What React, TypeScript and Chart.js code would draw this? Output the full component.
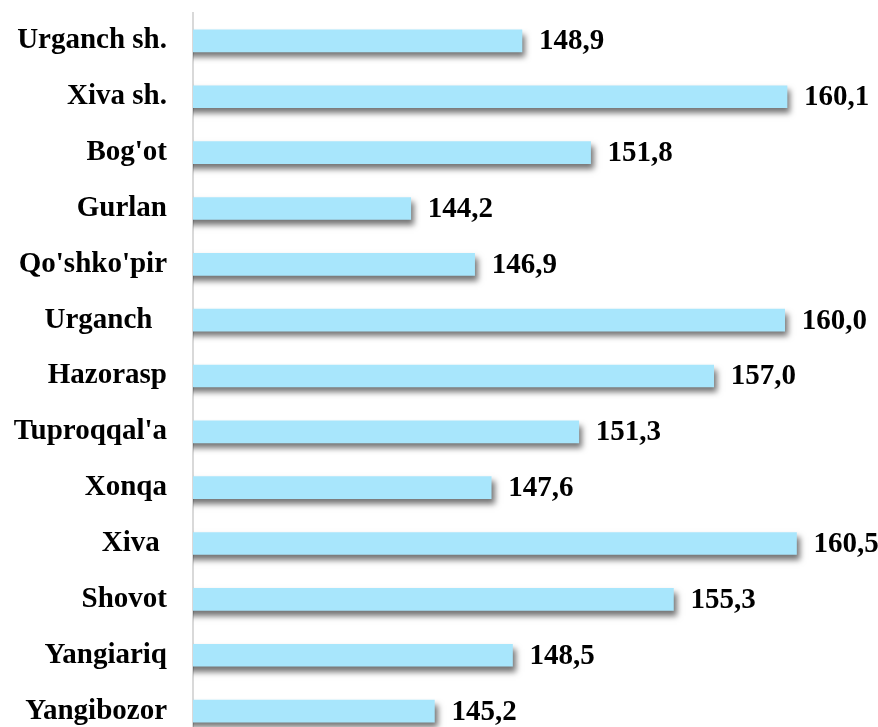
import React, { useEffect, useRef } from "react";
import { Chart, registerables } from "chart.js";

Chart.register(...registerables);

const categories: string[] = [
  "Urganch sh.",
  "Xiva sh.",
  "Bog'ot",
  "Gurlan",
  "Qo'shko'pir",
  "Urganch  ",
  "Hazorasp",
  "Tuproqqal'a",
  "Xonqa",
  "Xiva ",
  "Shovot",
  "Yangiariq",
  "Yangibozor",
];

const values: number[] = [
  148.9, 160.1, 151.8, 144.2, 146.9, 160.0, 157.0, 151.3, 147.6, 160.5, 155.3, 148.5, 145.2,
];

const axisMin = 135;
const axisMax = 162;

const FONT_FAMILY = "'Liberation Serif', 'Times New Roman', serif";

const shadowPlugin = {
  id: "barShadow",
  beforeDatasetsDraw(chart: any) {
    const ctx = chart.ctx;
    ctx.save();
    ctx.shadowColor = "rgba(0,0,0,0.55)";
    ctx.shadowBlur = 6;
    ctx.shadowOffsetX = 3;
    ctx.shadowOffsetY = 5;
  },
  afterDatasetsDraw(chart: any) {
    chart.ctx.restore();
  },
};

const valueLabelPlugin = {
  id: "valueLabels",
  afterDraw(chart: any) {
    const ctx = chart.ctx;
    const meta = chart.getDatasetMeta(0);
    ctx.save();
    ctx.font = `bold 29px ${FONT_FAMILY}`;
    ctx.fillStyle = "#000";
    ctx.textAlign = "left";
    ctx.textBaseline = "middle";
    meta.data.forEach((bar: any, i: number) => {
      const v = values[i];
      const txt = v.toFixed(1).replace(".", ",");
      ctx.fillText(txt, bar.x + 17, bar.y + 1);
    });
    ctx.restore();
  },
};

export default function App() {
  const ref = useRef<HTMLCanvasElement | null>(null);

  useEffect(() => {
    document.body.style.margin = "0";
    document.body.style.overflow = "hidden";
    if (!ref.current) return;
    const chart = new Chart(ref.current, {
      type: "bar",
      data: {
        labels: categories,
        datasets: [
          {
            data: values,
            backgroundColor: "#a8e6fc",
            borderWidth: 0,
            barThickness: 22,
          },
        ],
      },
      options: {
        indexAxis: "y",
        responsive: false,
        animation: false,
        layout: { padding: { top: 13, right: 46, bottom: 0, left: 0 } },
        plugins: {
          legend: { display: false },
          tooltip: { enabled: false },
        },
        scales: {
          x: {
            display: false,
            min: axisMin,
            max: axisMax,
          },
          y: {
            afterFit(scale: any) {
              scale.width = 193;
              scale.paddingTop = 0;
              scale.paddingBottom = 0;
            },
            grid: { display: false, drawTicks: false },
            border: { display: true, color: "#d9d9d9", width: 2 },
            ticks: {
              color: "#000",
              padding: 26,
              font: { family: FONT_FAMILY, size: 29, weight: "bold" },
            },
          },
        },
      },
      plugins: [shadowPlugin, valueLabelPlugin],
    });
    return () => chart.destroy();
  }, []);

  return (
    <div style={{ width: 878, height: 727, overflow: "hidden", background: "#fff" }}>
      <canvas ref={ref} width={878} height={739} style={{ display: "block" }} />
    </div>
  );
}
